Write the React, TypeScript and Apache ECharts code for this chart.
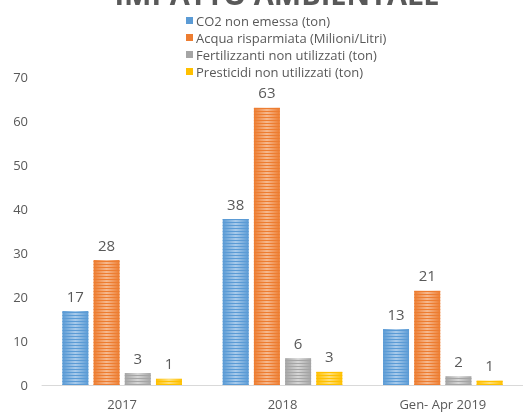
import React, { useEffect, useRef } from "react";
import * as echarts from "echarts";

const categories = ["2017", "2018", "Gen- Apr 2019"];
const seriesNames = [
  "CO2 non emessa (ton)",
  "Acqua risparmiata (Milioni/Litri)",
  "Fertilizzanti non utilizzati (ton)",
  "Presticidi non utilizzati (ton)",
];
const co2 = [16.8, 37.7, 12.7];
const acqua = [28.4, 63.0, 21.4];
const fertilizzanti = [2.7, 6.1, 2.0];
const pesticidi = [1.4, 3.0, 1.0];
const colors = ["#5b9bd5", "#ed7d31", "#a5a5a5", "#ffc000"];
const lightColors = ["#a9cbeb", "#f6b98f", "#d6d6d6", "#ffe07a"];

export default function App() {
  const ref = useRef<HTMLDivElement>(null);
  useEffect(() => {
    const chart = echarts.init(ref.current!, null, { renderer: "svg" });
    const data = [co2, acqua, fertilizzanti, pesticidi];
    const font = "'Open Sans', sans-serif";
    chart.setOption({
      animation: false,
      textStyle: { fontFamily: font },
      graphic: [
        {
          type: "text",
          x: 277,
          y: 8,
          style: {
            text: "IMPATTO AMBIENTALE",
            fontSize: 29,
            fontWeight: "bold",
            fill: "#595959",
            fontFamily: font,
            align: "center",
            verticalAlign: "bottom",
          },
        },
      ],
      legend: {
        orient: "vertical",
        left: 181,
        top: 9,
        itemWidth: 7,
        itemHeight: 7,
        itemGap: 4,
        icon: "rect",
        textStyle: { color: "#595959", fontSize: 13, fontFamily: font, padding: [0, 0, 0, -2] },
        data: seriesNames.map((n, i) => ({ name: n, itemStyle: { color: colors[i] } })),
      },
      grid: { left: 42, right: -7, top: 77, bottom: 28 },
      xAxis: {
        type: "category",
        data: categories,
        axisLine: { lineStyle: { color: "#d9d9d9", width: 1 } },
        axisTick: { show: false },
        axisLabel: { color: "#595959", fontSize: 13, margin: 12, fontFamily: font },
      },
      yAxis: {
        type: "value",
        min: 0,
        max: 70,
        interval: 10,
        splitLine: { show: false },
        axisLine: { show: false },
        axisTick: { show: false },
        axisLabel: { color: "#595959", fontSize: 13, margin: 14, fontFamily: font },
      },
      series: seriesNames.map((n, i) => ({
        name: n,
        type: "bar",
        data: data[i],
        barWidth: 26,
        barGap: "20%",
        itemStyle: {
          color: new echarts.graphic.LinearGradient(0, 0, 1, 0, [
            { offset: 0, color: colors[i] },
            { offset: 0.5, color: lightColors[i] },
            { offset: 1, color: colors[i] },
          ]),
          decal: {
            symbol: "rect",
            symbolSize: 1,
            color: colors[i],
            dashArrayX: [1, 0],
            dashArrayY: [1, 2],
            rotation: 0,
          },
        },
        label: {
          show: true,
          position: "top",
          distance: 8,
          color: "#595959",
          fontSize: 15,
          fontFamily: font,
          formatter: (p: any) => String(Math.round(p.value)),
        },
      })),
    });
    return () => chart.dispose();
  }, []);
  return (
    <div
      ref={ref}
      style={{ position: "fixed", left: 0, top: 0, width: 523, height: 413 }}
    />
  );
}
